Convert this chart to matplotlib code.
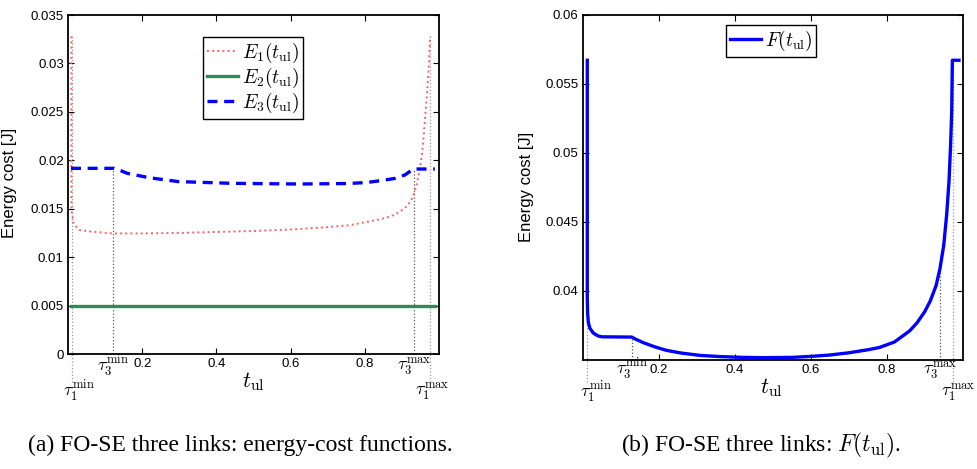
import matplotlib
matplotlib.use('Agg')
from matplotlib import pyplot as plt

plt.rcParams['font.family'] = ['Liberation Sans', 'DejaVu Sans']
plt.rcParams['mathtext.fontset'] = 'cm'

# ---- data ----
t_e1 = [0.009, 0.009, 0.010, 0.015, 0.030, 0.065, 0.12, 0.2, 0.3, 0.4, 0.5, 0.6,
        0.7, 0.76, 0.80, 0.84, 0.87, 0.895, 0.915, 0.93, 0.94, 0.948, 0.955, 0.962,
        0.968, 0.973, 0.976]
e1 = [0.0328, 0.0160, 0.0147, 0.0135, 0.0128, 0.01263, 0.01245, 0.01245, 0.0125, 0.0126,
      0.0127, 0.01285, 0.0131, 0.0133, 0.0136, 0.0139, 0.0142, 0.0147, 0.0153, 0.0162,
      0.0175, 0.0190, 0.0208, 0.0240, 0.0270, 0.0300, 0.0328]

t_e2 = [0.009, 0.989]
e2 = [0.005, 0.005]

t_e3 = [0.008, 0.124, 0.142, 0.160, 0.219, 0.297, 0.444, 0.624, 0.75, 0.805, 0.854,
        0.881, 0.908, 0.931, 0.989]
e3 = [0.01917, 0.01917, 0.01893, 0.01865, 0.0182, 0.0178, 0.01762, 0.01755, 0.0176,
      0.0177, 0.01796, 0.01813, 0.01848, 0.0191, 0.0191]

t_f = [0.0121, 0.0121, 0.013, 0.015, 0.019, 0.0279, 0.04, 0.05, 0.129, 0.14, 0.16,
       0.19, 0.22, 0.26, 0.31, 0.36, 0.42, 0.48, 0.55, 0.60, 0.65, 0.70, 0.75, 0.78,
       0.80, 0.82, 0.84, 0.86, 0.88, 0.90, 0.915, 0.93, 0.94, 0.95, 0.958, 0.964,
       0.968, 0.971, 0.9727, 0.990]
f = [0.0567, 0.0395, 0.0384, 0.0377, 0.0373, 0.03695, 0.03675, 0.03668, 0.03666,
     0.0365, 0.03625, 0.03595, 0.0357, 0.0355, 0.03533, 0.03525, 0.03519, 0.03517,
     0.03519, 0.03526, 0.03536, 0.03552, 0.03574, 0.0359, 0.0361, 0.0363, 0.0367,
     0.0371, 0.0377, 0.0385, 0.0393, 0.0404, 0.0416, 0.0433, 0.0456, 0.0480, 0.0505,
     0.0530, 0.0567, 0.0567]

tau_left = [0.010, 0.120, 0.933, 0.977]
tau_left_top = [0.0328, 0.0191, 0.0191, 0.0328]
tau_right = [0.0105, 0.129, 0.941, 0.974]
tau_right_top = [0.0567, 0.03666, 0.0416, 0.0567]
tau_names = [r'$\tau_{\mathbf{1}}^{\mathrm{min}}$', r'$\tau_{\mathbf{3}}^{\mathrm{min}}$',
             r'$\tau_{\mathbf{3}}^{\mathrm{max}}$', r'$\tau_{\mathbf{1}}^{\mathrm{max}}$']
tau_low = [True, False, False, True]

xticks = [0.2, 0.4, 0.6, 0.8]
yticks_left = [0, 0.005, 0.01, 0.015, 0.02, 0.025, 0.03, 0.035]
ylabels_left = ['0', '0.005', '0.01', '0.015', '0.02', '0.025', '0.03', '0.035']
yticks_right = [0.04, 0.045, 0.05, 0.055, 0.06]
ylabels_right = ['0.04', '0.045', '0.05', '0.055', '0.06']


def style_axes(ax):
    ax.tick_params(direction='in', top=True, right=True, labelsize=9.5, length=4, pad=3)
    for s in ax.spines.values():
        s.set_linewidth(1.3)
    ax.set_xticks(xticks)
    ax.set_xticklabels(['0.2', '0.4', '0.6', '0.8'])
    ax.set_xlim(0, 1)


def tau_marks(ax, taus, tops, ybot, dx_pts, dy_hi, dy_lo):
    for i, (t, top) in enumerate(zip(taus, tops)):
        low = tau_low[i]
        c = '0.6' if low else '0.35'
        bottom = ybot if low else ax.get_ylim()[0]
        ax.plot([t, t], [bottom, top], linestyle=':', color=c, lw=0.9, clip_on=False, zorder=1)
        ax.annotate(tau_names[i], xy=(t, 0), xycoords=('data', 'axes fraction'),
                    xytext=(dx_pts[i], -(dy_lo if low else dy_hi)), textcoords='offset points',
                    ha='center', va='center', fontsize=13, annotation_clip=False)


fig = plt.figure(figsize=(9.77, 4.69), dpi=100)

# ---- (a) ----
ax1 = fig.add_axes([0.0696, 0.2452, 0.3797, 0.7228])
ax1.plot(t_e1, e1, linestyle=':', color='#ff6060', lw=1.4, label=r'$E_1(t_{\rm ul})$', zorder=3)
ax1.plot(t_e2, e2, linestyle='-', color='#2e8b57', lw=2.4, label=r'$E_2(t_{\rm ul})$', zorder=3)
ax1.plot(t_e3, e3, linestyle=(0, (3, 2)), color='#0000ff', lw=2.4, label=r'$E_3(t_{\rm ul})$', zorder=3)
ax1.set_ylim(0, 0.035)
style_axes(ax1)
ax1.set_yticks(yticks_left)
ax1.set_yticklabels(ylabels_left)
tau_marks(ax1, tau_left, tau_left_top, -0.0029, [5, 0, 0, 1], 9, 27)
ax1.set_ylim(0, 0.035)
ax1.set_ylabel('Energy cost [J]', fontsize=12)
ax1.yaxis.set_label_coords(-0.137, 0.504)
ax1.text(0.499, -0.082, r'$t_{\rm ul}$', transform=ax1.transAxes, ha='center', va='center', fontsize=16)
leg = ax1.legend(loc='upper center', bbox_to_anchor=(0.499, 0.935), fontsize=14, fancybox=False,
                 framealpha=1, edgecolor='black', handlelength=1.6, handletextpad=0.2,
                 labelspacing=0.05, borderpad=0.2, borderaxespad=0)
leg.get_frame().set_linewidth(1.0)

# ---- (b) ----
ax2 = fig.add_axes([0.5964, 0.2324, 0.389, 0.7363])
ax2.plot(t_f, f, linestyle='-', color='#0000ff', lw=2.4, label=r'$F(t_{\rm ul})$', zorder=3)
ax2.set_ylim(0.035, 0.06)
style_axes(ax2)
ax2.set_yticks(yticks_right)
ax2.set_yticklabels(ylabels_right)
tau_marks(ax2, tau_right, tau_right_top, 0.0334, [7, 0, 0, 4], 7, 23)
ax2.set_ylim(0.035, 0.06)
ax2.set_ylabel('Energy cost [J]', fontsize=12)
ax2.yaxis.set_label_coords(-0.128, 0.50)
ax2.text(0.497, -0.081, r'$t_{\rm ul}$', transform=ax2.transAxes, ha='center', va='center', fontsize=16)
leg2 = ax2.legend(loc='upper center', bbox_to_anchor=(0.495, 0.97), fontsize=14, fancybox=False,
                  framealpha=1, edgecolor='black', handlelength=1.6, handletextpad=0.2,
                  borderpad=0.2, borderaxespad=0)
leg2.get_frame().set_linewidth(1.0)

# ---- captions ----
fig.text(0.246, 0.05, '(a) FO-SE three links: energy-cost functions.', ha='center', va='center',
         fontsize=17, family='Liberation Serif')
fig.text(0.779, 0.05, r'(b) FO-SE three links: $F(t_{\rm ul})$.', ha='center', va='center',
         fontsize=17, family='Liberation Serif')

fig.savefig('out.png', dpi=100)
